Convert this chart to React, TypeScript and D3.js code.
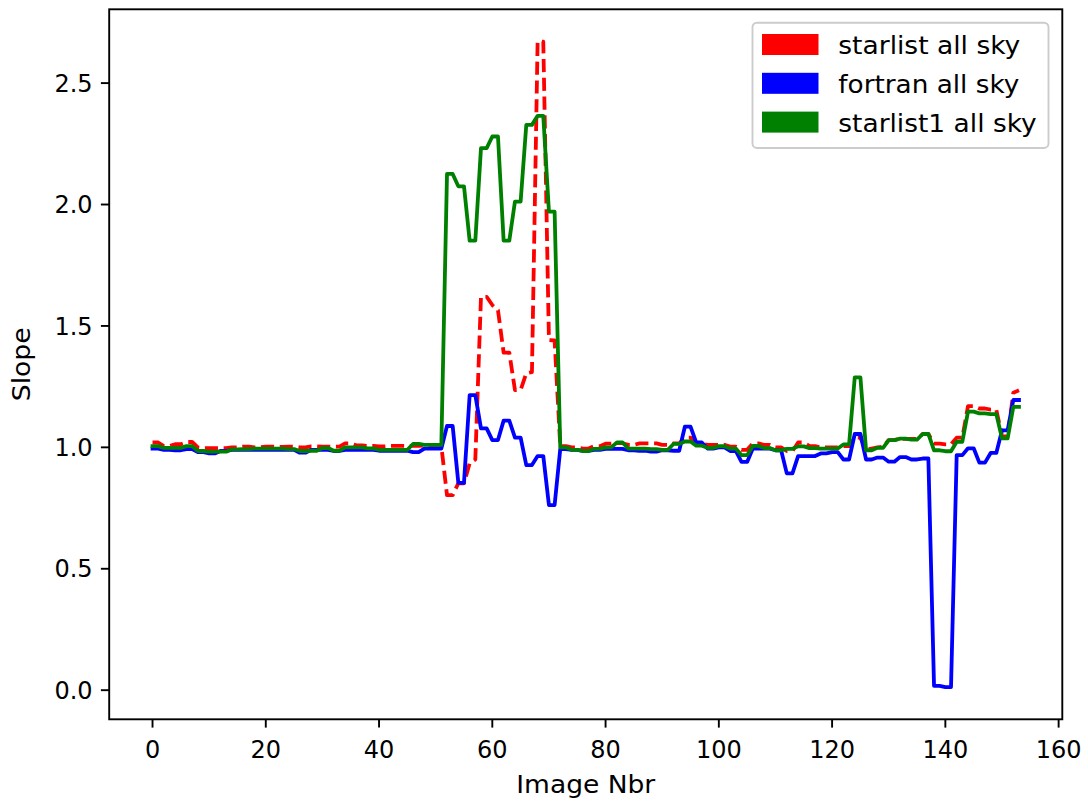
import React from "react";
import * as d3 from "d3";

const imageNbr = d3.range(0, 154);

const starlist = [
  1.02, 1.02, 1.005, 1.005, 1.013, 1.013, 1.022, 1.022, 1.0, 0.997,
  0.997, 0.997, 0.997, 0.997, 1.0, 1.0, 1.003, 1.003, 1.0, 1.0,
  1.003, 1.003, 1.002, 1.002, 1.003, 1.003, 1.0, 1.0, 1.004, 1.004,
  1.003, 1.003, 1.003, 1.003, 1.016, 1.016, 1.008, 1.008, 1.006, 1.006,
  1.004, 1.004, 1.006, 1.006, 1.006, 1.006, 1.006, 1.006, 1.008, 1.008,
  1.005, 1.005, 0.803, 0.803, 0.852, 0.852, 0.934, 0.95, 1.62, 1.62,
  1.586, 1.565, 1.39, 1.39, 1.236, 1.236, 1.305, 1.31, 2.671, 2.671,
  1.442, 1.44, 1.005, 1.005, 1.0, 1.0, 0.995, 0.995, 1.005, 1.005,
  1.015, 1.015, 1.017, 1.017, 1.01, 1.01, 1.016, 1.016, 1.016, 1.016,
  1.01, 1.01, 1.016, 1.016, 1.04, 1.04, 1.016, 1.016, 1.01, 1.01,
  1.01, 1.01, 1.003, 1.003, 0.99, 0.99, 1.016, 1.016, 1.01, 1.01,
  1.0, 1.0, 0.985, 0.985, 1.02, 1.02, 1.005, 1.005, 1.0, 1.0,
  1.0, 1.0, 1.005, 1.005, 1.04, 1.04, 0.99, 0.995, 1.0, 1.003,
  1.03, 1.03, 1.035, 1.035, 1.035, 1.035, 1.055, 1.055, 1.015, 1.015,
  1.012, 1.012, 1.04, 1.04, 1.17, 1.17, 1.16, 1.16, 1.155, 1.155,
  1.045, 1.045, 1.225, 1.235,
];

const fortran = [
  0.995, 0.995, 0.99, 0.99, 0.988, 0.988, 0.993, 0.993, 0.98, 0.98,
  0.975, 0.975, 0.985, 0.985, 0.99, 0.99, 0.99, 0.99, 0.99, 0.99,
  0.99, 0.99, 0.99, 0.99, 0.99, 0.99, 0.978, 0.978, 0.99, 0.99,
  0.99, 0.99, 0.985, 0.985, 0.99, 0.99, 0.99, 0.99, 0.99, 0.99,
  0.986, 0.986, 0.986, 0.986, 0.986, 0.986, 0.98, 0.98, 0.995, 0.995,
  0.995, 0.995, 1.088, 1.088, 0.854, 0.854, 1.215, 1.215, 1.078, 1.078,
  1.03, 1.03, 1.11, 1.11, 1.04, 1.04, 0.927, 0.927, 0.964, 0.964,
  0.762, 0.762, 0.993, 0.993, 0.99, 0.99, 0.985, 0.985, 0.99, 0.99,
  0.994, 0.994, 0.994, 0.994, 0.988, 0.988, 0.986, 0.986, 0.982, 0.982,
  0.988, 0.988, 0.986, 0.986, 1.085, 1.085, 1.02, 1.02, 0.995, 0.995,
  1.0, 1.0, 0.985, 0.985, 0.94, 0.94, 0.995, 0.995, 0.995, 0.995,
  0.988, 0.988, 0.893, 0.893, 0.964, 0.964, 0.964, 0.964, 0.975, 0.975,
  0.98, 0.98, 0.95, 0.95, 1.055, 1.055, 0.95, 0.95, 0.958, 0.958,
  0.941, 0.941, 0.96, 0.96, 0.95, 0.95, 0.954, 0.954, 0.018, 0.018,
  0.013, 0.013, 0.968, 0.968, 0.996, 0.996, 0.937, 0.937, 0.977, 0.977,
  1.07, 1.07, 1.195, 1.195,
];

const starlist1 = [
  1.005, 1.005, 0.998, 0.998, 0.998, 0.998, 1.005, 1.005, 0.985, 0.985,
  0.982, 0.982, 0.982, 0.982, 0.992, 0.992, 0.993, 0.993, 0.995, 0.995,
  0.995, 0.995, 0.995, 0.995, 0.993, 0.993, 0.985, 0.985, 0.986, 0.986,
  0.997, 0.997, 0.986, 0.986, 1.0, 1.0, 1.0, 1.0, 0.996, 0.996,
  0.99, 0.99, 0.99, 0.99, 0.99, 0.99, 1.014, 1.014, 1.01, 1.01,
  1.01, 1.01, 2.126, 2.126, 2.075, 2.075, 1.851, 1.851, 2.232, 2.232,
  2.28, 2.28, 1.851, 1.851, 2.012, 2.012, 2.328, 2.328, 2.365, 2.365,
  1.971, 1.971, 1.0, 1.0, 0.99, 0.99, 0.985, 0.985, 0.994, 0.994,
  1.0, 1.0, 1.02, 1.02, 0.995, 0.995, 0.995, 0.995, 0.993, 0.993,
  0.99, 0.99, 1.014, 1.014, 1.024, 1.024, 1.007, 1.007, 0.998, 0.998,
  1.005, 1.005, 0.995, 0.995, 0.968, 0.968, 1.006, 1.006, 0.997, 0.997,
  0.988, 0.988, 0.994, 0.994, 1.004, 1.004, 0.997, 0.997, 0.995, 0.995,
  0.995, 0.995, 1.012, 1.012, 1.288, 1.288, 0.988, 0.988, 0.998, 0.998,
  1.03, 1.03, 1.036, 1.036, 1.032, 1.032, 1.055, 1.055, 0.988, 0.988,
  0.984, 0.984, 1.023, 1.023, 1.147, 1.147, 1.14, 1.14, 1.137, 1.137,
  1.037, 1.037, 1.167, 1.167,
];

const seriesNames = ["starlist all sky", "fortran all sky", "starlist1 all sky"];
const seriesColors = ["#ff0000", "#0000ff", "#008000"];
const xTicks = [0, 20, 40, 60, 80, 100, 120, 140, 160];
const yTicks = [0, 0.5, 1.0, 1.5, 2.0, 2.5];
const yTickLabels = ["0.0", "0.5", "1.0", "1.5", "2.0", "2.5"];
const legendTextWidths = [182, 181, 198.4];

export default function App() {
  const W = 1088;
  const H = 801;
  const left = 109.2;
  const right = 1062.3;
  const top = 9.3;
  const bottom = 719.3;
  const font = "'DejaVu Sans', sans-serif";
  const fs = 24;

  const xMin = d3.min(imageNbr) as number;
  const xMax = d3.max(imageNbr) as number;
  const xPad = (xMax - xMin) * 0.05;
  const all = [...starlist, ...fortran, ...starlist1];
  const yMin = d3.min(all) as number;
  const yMax = d3.max(all) as number;
  const yPad = (yMax - yMin) * 0.05;

  const x = d3.scaleLinear().domain([xMin - xPad, xMax + xPad]).range([left, right]);
  const y = d3.scaleLinear().domain([yMin - yPad, yMax + yPad]).range([bottom, top]);

  const line = d3
    .line<number>()
    .x((_, i) => x(imageNbr[i]))
    .y((d) => y(d));

  const series = [starlist, fortran, starlist1];
  const tickLen = 8.3;
  const lw = 3.8;

  return (
    <div style={{ position: "absolute", left: 0, top: 0 }}>
      <svg width={W} height={H} viewBox={`0 0 ${W} ${H}`} style={{ display: "block", background: "#fff" }}>
        <rect x={0} y={0} width={W} height={H} fill="#fff" />
        {series.map((s, k) => (
          <path
            key={k}
            d={line(s) || ""}
            fill="none"
            stroke={seriesColors[k]}
            strokeWidth={lw}
            strokeLinejoin="round"
            strokeLinecap={k === 0 ? "butt" : "square"}
            strokeDasharray={k === 0 ? "13.1 5.67" : undefined}
          />
        ))}
        {/* spines */}
        <rect x={left} y={top} width={right - left} height={bottom - top} fill="none" stroke="#000" strokeWidth={1.9} />
        {/* x ticks */}
        {xTicks.map((t) => (
          <g key={"x" + t}>
            <line x1={x(t)} x2={x(t)} y1={bottom} y2={bottom + tickLen} stroke="#000" strokeWidth={1.9} />
            <text x={x(t)} y={758.3} textAnchor="middle" fontFamily={font} fontSize={fs} fill="#000">
              {t}
            </text>
          </g>
        ))}
        {/* y ticks */}
        {yTicks.map((t, i) => (
          <g key={"y" + t}>
            <line x1={left - tickLen} x2={left} y1={y(t)} y2={y(t)} stroke="#000" strokeWidth={1.9} />
            <text x={left - tickLen - 8.3} y={y(t) + 8.7} textAnchor="end" fontFamily={font} fontSize={fs} fill="#000">
              {yTickLabels[i]}
            </text>
          </g>
        ))}
        <text
          x={(left + right) / 2}
          y={792.7}
          textAnchor="middle"
          fontFamily={font}
          fontSize={fs}
          fill="#000"
          textLength={139}
          lengthAdjust="spacingAndGlyphs"
        >
          Image Nbr
        </text>
        <text
          transform={`translate(30, ${(top + bottom) / 2}) rotate(-90)`}
          textAnchor="middle"
          fontFamily={font}
          fontSize={fs}
          fill="#000"
          textLength={73.8}
          lengthAdjust="spacingAndGlyphs"
        >
          Slope
        </text>
        {/* legend */}
        <rect x={752.5} y={22.7} width={296} height={125.3} rx={4.5} fill="#fff" fillOpacity={0.8} stroke="#cccccc" strokeWidth={1.9} />
        {seriesNames.map((n, k) => (
          <g key={n}>
            <rect x={762} y={34 + k * 38.8} width={56.5} height={21} fill={seriesColors[k]} />
            <text
              x={838.3}
              y={54.3 + k * 38.8}
              fontFamily={font}
              fontSize={fs}
              fill="#000"
              textLength={legendTextWidths[k]}
              lengthAdjust="spacingAndGlyphs"
            >
              {n}
            </text>
          </g>
        ))}
      </svg>
    </div>
  );
}
